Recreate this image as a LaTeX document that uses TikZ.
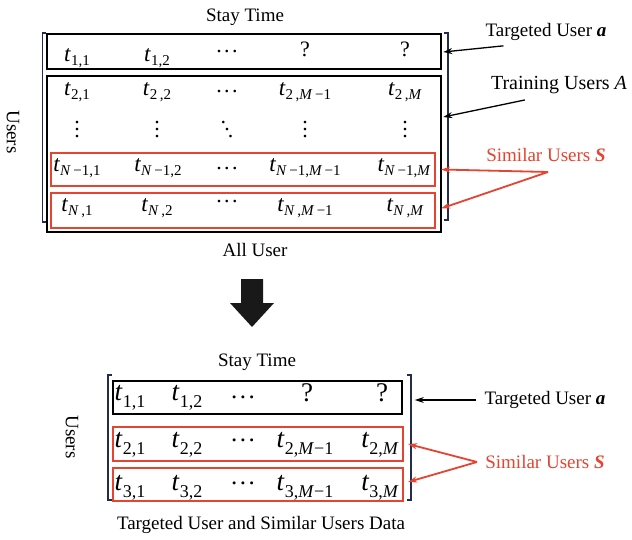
\documentclass[tikz,border=0pt]{standalone}
\usepackage{fontspec}
\setmainfont{Liberation Serif}
\usetikzlibrary{arrows.meta}
\definecolor{myred}{RGB}{228,68,48}
\definecolor{brk}{RGB}{35,45,75}
\newcommand\Etop[1]{\fontsize{23}{23}\selectfont\textit{t}\raisebox{-4pt}{\fontsize{15}{15}\selectfont #1}}
\newcommand\Ebot[1]{\fontsize{27}{27}\selectfont\textit{t}\raisebox{-7pt}{\fontsize{18}{18}\selectfont #1}}
\newcommand\Vd{\fontsize{22}{22}\selectfont\vbox{\baselineskip=7pt\lineskiplimit=0pt\hbox{.}\hbox{.}\hbox{.}}}
\newcommand\Dd{\fontsize{22}{22}\selectfont\hbox{\raise14pt\hbox{.}\kern-1.8pt\raise7pt\hbox{.}\kern-1.8pt\hbox{.}}}
\newcommand\Cd{\hbox{.\kern2.5pt.\kern2.5pt.}}
\begin{document}
\begin{tikzpicture}[x=1pt,y=-1pt,
 lbl/.style={font=\fontsize{19}{22}\selectfont, inner sep=0pt},
 blkbox/.style={draw=black, line width=2.2pt, inner sep=0pt},
 redbox/.style={draw=myred, line width=2.2pt, inner sep=0pt},
 ent/.style={anchor=base, inner sep=0pt},
 qm/.style={anchor=base, inner sep=0pt},
 dts/.style={anchor=base, inner sep=0pt, font=\fontsize{22}{22}\selectfont},
 dtb/.style={anchor=base, inner sep=0pt, font=\fontsize{25}{25}\selectfont},
 vd/.style={inner sep=0pt},
 barr/.style={-{Stealth[length=9pt,width=6pt]}, line width=1.3pt},
 rarr/.style={-{Stealth[length=9pt,width=6pt]}, line width=1.8pt, draw=myred},
 brack/.style={draw=brk, line width=1.2pt}]
\fill[white] (0,0) rectangle (632,540);

% ---------- top matrix ----------
\node[lbl] (st1) at (245,17) {Stay Time};
\node[blkbox, minimum width=394, minimum height=35] (r1) at (243.7,51.5) {};
\node[blkbox, minimum width=394, minimum height=156] (train) at (243.7,154) {};
\node[redbox, minimum width=384, minimum height=33] (rn1) at (243,169.5) {};
\node[redbox, minimum width=384, minimum height=35] (rn) at (243,210.5) {};
\draw[brack] (46,33) -- (42.7,33) -- (42.7,222) -- (46,222);
\draw[brack] (444,33) -- (448,33) -- (448,220) -- (444,220);

\node[ent] (a11) at (77,62) {\Etop{1,1}};
\node[ent] (a12) at (157,62) {\Etop{1,2}};
\node[dts] (a13) at (227,53) {\Cd};
\node[qm, font=\fontsize{22}{22}\selectfont] (a14) at (305,57) {?};
\node[qm, font=\fontsize{22}{22}\selectfont] (a15) at (405,57) {?};

\node[ent] (a21) at (77,96) {\Etop{2,1}};
\node[ent] (a22) at (157,96) {\Etop{2\,,2}};
\node[dts] (a23) at (227,93) {\Cd};
\node[ent] (a24) at (305,96) {\Etop{2\,,\textit{M}\,−1}};
\node[ent] (a25) at (405,96) {\Etop{2\,,\textit{M}}};

\node[vd] (v1) at (77,130) {\Vd};
\node[vd] (v2) at (157,130) {\Vd};
\node[vd] (v3) at (227,130) {\Dd};
\node[vd] (v4) at (305,130) {\Vd};
\node[vd] (v5) at (405,130) {\Vd};

\node[ent] (n11) at (77,172) {\Etop{\textit{N}\,−1,1}};
\node[ent] (n12) at (158,172) {\Etop{\textit{N}\,−1,2}};
\node[dts] (n13) at (227,170) {\Cd};
\node[ent] (n14) at (305,172) {\Etop{\textit{N}\,−1,\textit{M}\,−1}};
\node[ent] (n15) at (404,172) {\Etop{\textit{N}\,−1,\textit{M}}};

\node[ent] (m11) at (77,212) {\Etop{\textit{N}\,,1}};
\node[ent] (m12) at (157,212) {\Etop{\textit{N}\,,2}};
\node[dts] (m13) at (227,203) {\Cd};
\node[ent] (m14) at (305,212) {\Etop{\textit{N}\,,\textit{M}\,−1}};
\node[ent] (m15) at (405,212) {\Etop{\textit{N}\,,\textit{M}}};

\node[lbl, rotate=-90] (u1) at (13,132) {Users};
\node[lbl] (all) at (255,250) {All User};

\node[lbl] (ta1) at (546,32) {Targeted User \textbf{\textit{a}}};
\node[lbl, font=\fontsize{20}{22}\selectfont] (tr1) at (559,85) {Training Users \textit{A}};
\node[lbl, text=myred] (sim1) at (546,155) {Similar Users \textbf{\textit{S}}};
\coordinate (s1) at (548,172);

\draw[barr] ([shift={(18,5)}]ta1.south west) -- ([shift={(1.5,0.5)}]r1.east);
\draw[barr] ([shift={(34,6)}]tr1.south west) -- ([shift={(1.5,-37)}]train.east);
\draw[rarr] (s1) -- ([xshift=5]rn1.east);
\draw[rarr] (s1) -- ([shift={(5,-2)}]rn.east);

% ---------- big arrow ----------
\fill[black!90] (241,279) -- (263,279) -- (263,303) -- (274,303) -- (252,327) -- (230,303) -- (241,303) -- cycle;

% ---------- bottom matrix ----------
\node[lbl] (st2) at (257,362) {Stay Time};
\node[blkbox, minimum width=289, minimum height=33] (b1) at (257.3,397.5) {};
\node[redbox, minimum width=290, minimum height=34] (b2) at (258,444) {};
\node[redbox, minimum width=290, minimum height=33] (b3) at (258,484.5) {};
\draw[brack] (112,375) -- (108,375) -- (108,500) -- (112,500);
\draw[brack] (407,375) -- (411,375) -- (411,500) -- (407,500);

\node[ent] (c11) at (130,400) {\Ebot{1,1}};
\node[ent] (c12) at (187,400) {\Ebot{1,2}};
\node[dtb] (c13) at (243,398) {\Cd};
\node[qm, font=\fontsize{27}{27}\selectfont] (c14) at (307,401) {?};
\node[qm, font=\fontsize{27}{27}\selectfont] (c15) at (382,401) {?};

\node[ent] (c21) at (130,447) {\Ebot{2,1}};
\node[ent] (c22) at (187,447) {\Ebot{2,2}};
\node[dtb] (c23) at (243,441.5) {\Cd};
\node[ent] (c24) at (305,447) {\Ebot{2,\textit{M}−1}};
\node[ent] (c25) at (380,447) {\Ebot{2,\textit{M}}};

\node[ent] (c31) at (130,490) {\Ebot{3,1}};
\node[ent] (c32) at (187,490) {\Ebot{3,2}};
\node[dtb] (c33) at (243,484.5) {\Cd};
\node[ent] (c34) at (305,490) {\Ebot{3,\textit{M}−1}};
\node[ent] (c35) at (380,490) {\Ebot{3,\textit{M}}};

\node[lbl, rotate=-90] (u2) at (72,437) {Users};
\node[lbl] (cap2) at (261,525) {Targeted User and Similar Users Data};

\node[lbl] (ta2) at (545,400) {Targeted User \textbf{\textit{a}}};
\node[lbl, text=myred] (sim2) at (545,462) {Similar Users \textbf{\textit{S}}};
\coordinate (s2) at (477,462);

\draw[barr] ([xshift=-8]ta2.west) -- ([shift={(12,2.5)}]b1.east);
\draw[rarr] (s2) -- ([xshift=4]b2.east);
\draw[rarr] (s2) -- ([shift={(4,-2.5)}]b3.east);
\end{tikzpicture}
\end{document}
